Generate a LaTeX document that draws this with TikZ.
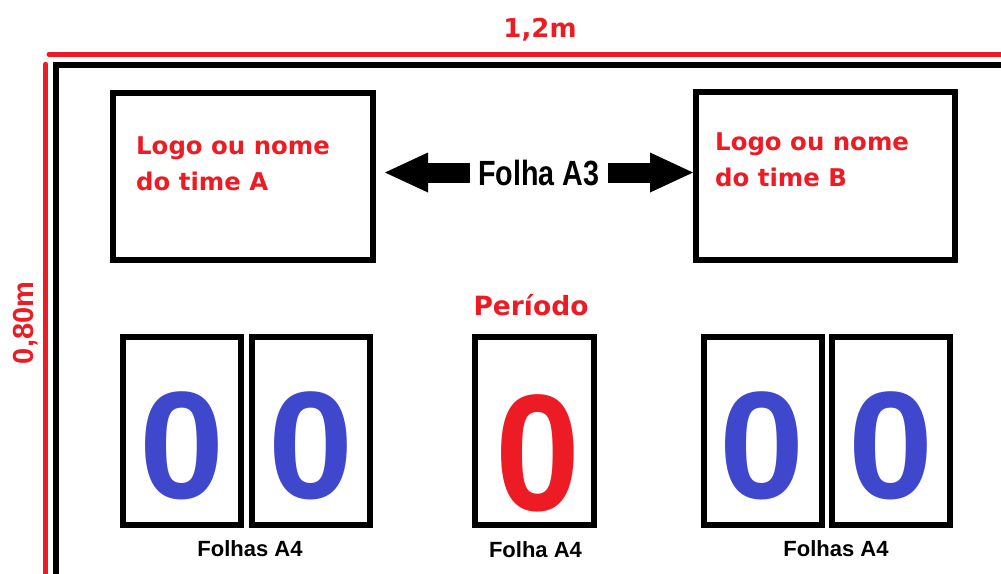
\documentclass[tikz,border=0pt]{standalone}
\usepackage{fontspec}
\setmainfont{Liberation Sans}
\newfontfamily\dejavu{DejaVu Sans}
\usetikzlibrary{arrows.meta}
\definecolor{signred}{HTML}{ED1C24}
\definecolor{digitblue}{HTML}{3F48CC}
\begin{document}
\begin{tikzpicture}[x=1pt,y=-1pt,
  teambox/.style={draw=black, line width=6pt, inner sep=0pt,
    minimum width=260pt, minimum height=167pt},
  scorebox/.style={draw=black, line width=6pt, inner sep=0pt,
    minimum width=118pt, minimum height=188pt},
  redtext/.style={text=signred, inner sep=0pt,
    font=\dejavu\bfseries\fontsize{24.4}{29}\selectfont},
  dimtext/.style={text=signred, inner sep=0pt, anchor=base},
  digit/.style={anchor=base, inner sep=0pt, text=digitblue, text depth=0pt,
    font=\bfseries\fontsize{153}{153}\selectfont},
  sheetlabel/.style={anchor=base, inner sep=0pt,
    font=\bfseries\fontsize{22}{26}\selectfont},
  bigarrow/.style={line width=20pt,
    -{Triangle[width=40pt,length=43pt,line width=0pt]}}]

\useasboundingbox (0,0) rectangle (1001,573);

% board outline and measurement lines, running off the page
\begin{scope}
  \clip (0,0) rectangle (1001,573);
  \draw[line width=6pt] (55.5,600) -- (55.5,65) -- (1030,65);
  \draw[signred, line width=5pt, line cap=round] (49,54.2) -- (1030,54.2);
  \draw[signred, line width=5.5pt, line cap=round] (45.7,64.5) -- (45.7,600);
\end{scope}

% dimensions
\node[dimtext, font=\dejavu\bfseries\fontsize{26}{30}\selectfont]
  (boardwidth) at (540,37) {1,2m};
\node[dimtext, rotate=90, font=\bfseries\fontsize{29}{33}\selectfont]
  (boardheight) at (33,323) {0,80m};

% team panels (A3 sheets)
\node[teambox] (teamA) at (243,176.5) {};
\node[teambox, minimum width=259pt, minimum height=168pt] (teamB) at (825.5,176) {};
\node[redtext, anchor=base west] (teamAline1) at (136,154) {Logo ou nome};
\node[redtext, anchor=base west] (teamAline2) at (136,190) {do time A};
\node[redtext, anchor=base west] (teamBline1) at (715,150) {Logo ou nome};
\node[redtext, anchor=base west] (teamBline2) at (715,186) {do time B};

% A3 label with arrows to both panels
\node[anchor=base, inner xsep=8.5pt, inner ysep=0pt,
  font=\bfseries\fontsize{35}{40}\selectfont]
  (a3) at (539,185) {\scalebox{0.82}[1]{Folha A3}};
\draw[bigarrow, shorten >=9pt] (a3.west) -- (a3.west -| teamA.east);
\draw[bigarrow] (a3.east) -- (a3.east -| teamB.west);

% score sheets (A4)
\node[scorebox] (home1) at (182,431) {};
\node[scorebox] (home2) at (311,431) {};
\node[scorebox, minimum width=119pt] (period) at (534.5,431) {};
\node[scorebox] (away1) at (762.5,431) {};
\node[scorebox] (away2) at (891,431) {};

\node[digit] (home1digit) at (182,498) {0};
\node[digit] (home2digit) at (311,498) {0};
\node[digit, text=signred, font=\bfseries\fontsize{166}{166}\selectfont]
  (perioddigit) at (537.5,510) {\scalebox{0.92}[1]{0}};
\node[digit] (away1digit) at (762.5,498) {0};
\node[digit] (away2digit) at (891,498) {0};

\node[redtext, anchor=base, font=\dejavu\bfseries\fontsize{26.5}{30}\selectfont]
  (periodtitle) at (531,315) {Período};

\node[sheetlabel] (homesheets) at (250,556) {Folhas A4};
\node[sheetlabel] (periodsheet) at (535.5,557) {Folha A4};
\node[sheetlabel] (awaysheets) at (836,556) {Folhas A4};
\end{tikzpicture}
\end{document}
